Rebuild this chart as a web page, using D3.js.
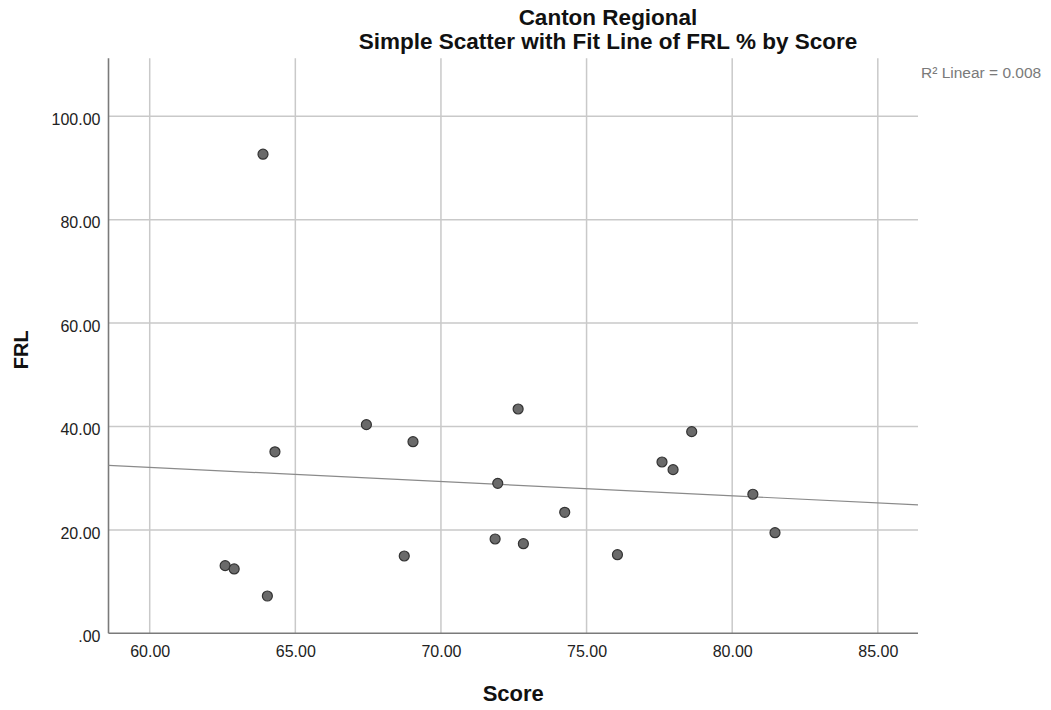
<!DOCTYPE html>
<html>
<head>
<meta charset="utf-8">
<script src="https://cdn.jsdelivr.net/npm/d3@7"></script>
<style>
  html, body { margin: 0; padding: 0; background: #fff; }
  svg { display: block; font-family: "Liberation Sans", Arial, sans-serif; }
</style>
</head>
<body>
<svg id="chart" width="1051" height="710"></svg>
<script>
// ---- data ----
const titleLines = ["Canton Regional", "Simple Scatter with Fit Line of FRL % by Score"];
const xLabel = "Score";
const yLabel = "FRL";
const fitLabel = "R\u00B2 Linear = 0.008";

const score = [63.89, 64.30, 67.44, 69.04, 62.59, 62.90, 64.04, 68.74, 72.65, 78.61,
               77.59, 77.97, 71.95, 74.25, 71.86, 72.83, 76.06, 80.71, 81.47];
const frl   = [92.65, 35.10, 40.35, 37.06, 13.08, 12.44, 7.21, 14.95, 43.38, 39.00,
               33.13, 31.65, 29.00, 23.40, 18.24, 17.33, 15.20, 26.89, 19.46];

const xTicks = [60, 65, 70, 75, 80, 85];
const yTicks = [0, 20, 40, 60, 80, 100];
const xDomain = [58.585, 86.38];
const yDomain = [0, 111.2];

// ---- layout ----
const svg = d3.select("#chart");
const plot = { left: 108.5, right: 918, top: 58.3, bottom: 633.3 };

const x = d3.scaleLinear().domain(xDomain).range([plot.left, plot.right]);
const y = d3.scaleLinear().domain(yDomain).range([plot.bottom, plot.top]);

const fmt = v => v === 0 ? ".00" : d3.format(".2f")(v);

// grid lines
const grid = svg.append("g");
grid.selectAll("line.v").data(xTicks).join("line")
  .attr("x1", d => x(d)).attr("x2", d => x(d))
  .attr("y1", plot.top).attr("y2", plot.bottom)
  .attr("stroke", "#c9c9c9").attr("stroke-width", 1.5);
grid.selectAll("line.h").data(yTicks.filter(d => d > 0)).join("line")
  .attr("x1", plot.left).attr("x2", plot.right)
  .attr("y1", d => y(d)).attr("y2", d => y(d))
  .attr("stroke", "#c9c9c9").attr("stroke-width", 1.5);

// axes
const xAxis = d3.axisBottom(x).tickValues(xTicks).tickFormat(fmt).tickSize(0).tickPadding(12);
const yAxis = d3.axisLeft(y).tickValues(yTicks).tickFormat(fmt).tickSize(0).tickPadding(8);

const gx = svg.append("g").attr("transform", `translate(0,${plot.bottom})`).call(xAxis);
gx.select(".domain").remove();
gx.selectAll("text").attr("font-size", 16).attr("fill", "#222")
  .attr("font-family", "Liberation Sans, Arial, sans-serif");

const gy = svg.append("g").attr("transform", `translate(${plot.left},0)`).call(yAxis);
gy.select(".domain").remove();
gy.selectAll("text").attr("font-size", 16).attr("fill", "#222")
  .attr("dy", "0.52em")
  .attr("font-family", "Liberation Sans, Arial, sans-serif");

// axis lines (left + bottom)
svg.append("line").attr("x1", plot.left).attr("x2", plot.left)
  .attr("y1", plot.top).attr("y2", plot.bottom)
  .attr("stroke", "#7a7a7a").attr("stroke-width", 1.6);
svg.append("line").attr("x1", plot.left).attr("x2", plot.right)
  .attr("y1", plot.bottom).attr("y2", plot.bottom)
  .attr("stroke", "#7a7a7a").attr("stroke-width", 1.6);

// linear fit (least squares from the data)
const mx = d3.mean(score), my = d3.mean(frl);
let sxy = 0, sxx = 0;
score.forEach((s, i) => { sxy += (s - mx) * (frl[i] - my); sxx += (s - mx) ** 2; });
const slope = sxy / sxx, intercept = my - slope * mx;
const fitPts = xDomain.map(v => [v, intercept + slope * v]);
svg.append("path")
  .attr("d", d3.line().x(d => x(d[0])).y(d => y(d[1]))(fitPts))
  .attr("fill", "none").attr("stroke", "#8a8a8a").attr("stroke-width", 1.2);

// points
svg.append("g").selectAll("circle").data(score.map((s, i) => [s, frl[i]])).join("circle")
  .attr("cx", d => x(d[0])).attr("cy", d => y(d[1])).attr("r", 5)
  .attr("fill", "#6a6a6a").attr("stroke", "#333").attr("stroke-width", 1.2);

// title
svg.append("g").selectAll("text").data(titleLines).join("text")
  .attr("x", 608).attr("y", (d, i) => 25 + i * 24)
  .attr("text-anchor", "middle").attr("font-weight", "bold").attr("font-size", 22.5)
  .attr("fill", "#111").text(d => d);

// axis titles
svg.append("text").attr("x", (plot.left + plot.right) / 2).attr("y", 701)
  .attr("text-anchor", "middle").attr("font-weight", "bold").attr("font-size", 22)
  .attr("fill", "#111").text(xLabel);
svg.append("text").attr("transform", `translate(28,${(plot.top + plot.bottom) / 2 + 4}) rotate(-90)`)
  .attr("text-anchor", "middle").attr("font-weight", "bold").attr("font-size", 20)
  .attr("fill", "#111").text(yLabel);

// fit label
svg.append("text").attr("x", 921).attr("y", 78)
  .attr("font-size", 15.5).attr("fill", "#7a7a7a").text(fitLabel);
</script>
</body>
</html>
